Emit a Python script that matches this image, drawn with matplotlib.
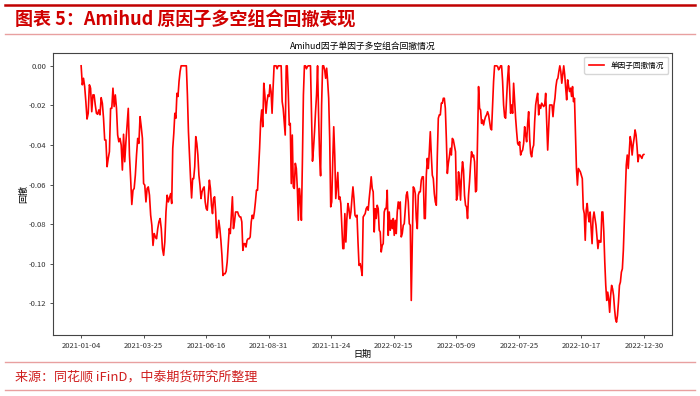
import numpy as np
import matplotlib
matplotlib.use("Agg")
import matplotlib.pyplot as plt
from matplotlib.lines import Line2D

plt.rcParams['font.family'] = ['Noto Sans CJK SC', 'DejaVu Sans']
plt.rcParams['axes.unicode_minus'] = False

# ---- data (drawdown, in six consecutive stretches) ----
dd_a = [0, -0.0096, -0.0063, -0.0105, -0.0181, -0.0269, -0.0240, -0.0096, -0.0113, -0.0232,
        -0.0147, -0.0147, -0.0198, -0.0240, -0.0245, -0.0223, -0.0248, -0.0161, -0.0189, -0.0265,
        -0.0375, -0.0375, -0.0510, -0.0468, -0.0434, -0.0215, -0.0215, -0.0113, -0.0206, -0.0147,
        -0.0215, -0.0350, -0.0384, -0.0367, -0.0401, -0.0527, -0.0346, -0.0485, -0.0384, -0.0299,
        -0.0215, -0.0451, -0.0570, -0.0701, -0.0629, -0.0620, -0.0553, -0.0451, -0.0367, -0.0392,
        -0.0257, -0.0308, -0.0367, -0.0595, -0.0603, -0.0688, -0.0620, -0.0612, -0.0654, -0.0755,
        -0.0806, -0.0908, -0.0848, -0.0865, -0.0874, -0.0823, -0.0789, -0.0772, -0.0823, -0.0924,
        -0.0958, -0.0891, -0.0739, -0.0654, -0.0688]
dd_b = [-0.0646, -0.0696, -0.0417, -0.0341, -0.0240, -0.0265, -0.0139, -0.0155, -0.0079, -0.0029,
        0, 0, 0, 0, 0, 0, -0.0147, -0.0333, -0.0451, -0.0570,
        -0.0668, -0.0570, -0.0570, -0.0510, -0.0358, -0.0392, -0.0451, -0.0553, -0.0603, -0.0671,
        -0.0637, -0.0620, -0.0612, -0.0688, -0.0722, -0.0730, -0.0654, -0.0578, -0.0620, -0.0705,
        -0.0747, -0.0671, -0.0662, -0.0739, -0.0870, -0.0840, -0.0781, -0.0823, -0.0882, -0.0958,
        -0.1060, -0.1051, -0.1051, -0.1039, -0.0992, -0.0908, -0.0823, -0.0848, -0.0755, -0.0662,
        -0.0823, -0.0789, -0.0739, -0.0739, -0.0739, -0.0755, -0.0764, -0.0764, -0.0789, -0.0933,
        -0.0899, -0.0899, -0.0916, -0.0882, -0.0874, -0.0874, -0.0865, -0.0789, -0.0755, -0.0772,
        -0.0739, -0.0688, -0.0629, -0.0629, -0.0519, -0.0417, -0.0282, -0.0223, -0.0308, -0.0088,
        -0.0147]
dd_c = [-0.0240, -0.0181, -0.0147, -0.0155, -0.0096, -0.0130, -0.0240, -0.0113, 0, 0,
        0, -0.0015, 0, 0, 0, 0, -0.0181, -0.0215, -0.0282, -0.0350,
        0, 0, -0.0130, -0.0299, -0.0291, -0.0595, -0.0350, -0.0612, -0.0620, -0.0493,
        -0.0519, -0.0620, -0.0781, -0.0620, -0.0671, -0.0781, -0.0485, -0.0147, 0, 0,
        -0.0015, -0.0003, 0, 0, 0, -0.0248, -0.0482, -0.0417, -0.0333, -0.0232,
        -0.0147, 0, -0.0248, -0.0451, -0.0556, -0.0198, 0, 0, -0.0020, -0.0063,
        -0.0012, -0.0079, -0.0164, -0.0367, -0.0713, -0.0688, -0.0485, -0.0308, -0.0451, -0.0671,
        -0.0603, -0.0539, -0.0674, -0.0662, -0.0696, -0.0806, -0.0924, -0.0924, -0.0747, -0.0891,
        -0.0772, -0.0696, -0.0722, -0.0772, -0.0739, -0.0671, -0.0612, -0.0671, -0.0755, -0.0764,
        -0.0755, -0.0891, -0.1009]
dd_d = [-0.1000, -0.1026, -0.1060, -0.0764, -0.0755, -0.0747, -0.0722, -0.0713, -0.0730, -0.0671,
        -0.0620, -0.0561, -0.0620, -0.0637, -0.0840, -0.0722, -0.0772, -0.0705, -0.0722, -0.0831,
        -0.0840, -0.0941, -0.0908, -0.0899, -0.0739, -0.0722, -0.0722, -0.0629, -0.0857, -0.0739,
        -0.0831, -0.0781, -0.0823, -0.0772, -0.0857, -0.0781, -0.0848, -0.0739, -0.0688, -0.0722,
        -0.0688, -0.0865, -0.0848, -0.0806, -0.0798, -0.0722, -0.0654, -0.0637, -0.0688, -0.0798,
        -0.0806, -0.1186, -0.0891, -0.0612, -0.0620, -0.0646, -0.0772, -0.0823, -0.0654, -0.0637,
        -0.0637, -0.0578, -0.0561, -0.0561, -0.0772, -0.0772, -0.0553, -0.0468, -0.0519, -0.0434,
        -0.0333, -0.0451, -0.0553, -0.0570, -0.0646, -0.0688, -0.0705, -0.0451, -0.0265, -0.0248,
        -0.0248, -0.0189, -0.0189, -0.0164, -0.0164, -0.0215, -0.0367, -0.0544, -0.0493, -0.0460,
        -0.0417, -0.0451, -0.0367, -0.0375, -0.0401]
dd_e = [-0.0434, -0.0679, -0.0654, -0.0536, -0.0578, -0.0679, -0.0553, -0.0485, -0.0527, -0.0654,
        -0.0705, -0.0713, -0.0772, -0.0654, -0.0586, -0.0502, -0.0434, -0.0460, -0.0451, -0.0485,
        -0.0637, -0.0629, -0.0375, -0.0105, -0.0215, -0.0223, -0.0291, -0.0274, -0.0299, -0.0274,
        -0.0257, -0.0248, -0.0232, -0.0248, -0.0282, -0.0316, -0.0324, -0.0198, -0.0079, 0,
        0, 0, -0.0003, -0.0020, -0.0012, 0, 0, -0.0079, -0.0198, -0.0257,
        -0.0265, -0.0164, -0.0063, 0, -0.0113, -0.0240, -0.0198, -0.0240, -0.0088, -0.0181,
        -0.0265, -0.0333, -0.0392, -0.0401, -0.0384, -0.0451, -0.0434, -0.0426, -0.0392, -0.0308,
        -0.0350, -0.0384, -0.0291, -0.0232, -0.0367, -0.0443, -0.0460, -0.0417, -0.0401, -0.0282,
        -0.0198, -0.0164, -0.0139, -0.0248, -0.0198, -0.0215, -0.0189, -0.0198, -0.0206, -0.0198,
        -0.0139, -0.0282, -0.0426, -0.0316, -0.0198]
dd_f = [-0.0198, -0.0257, -0.0198, -0.0164, -0.0105, -0.0071, -0.0063, -0.0029, 0, -0.0029,
        -0.0088, -0.0046, 0, -0.0046, -0.0113, -0.0172, -0.0071, -0.0105, -0.0130, -0.0113,
        -0.0155, -0.0105, -0.0181, -0.0164, -0.0333, -0.0519, -0.0603, -0.0519, -0.0527, -0.0536,
        -0.0553, -0.0570, -0.0722, -0.0747, -0.0882, -0.0730, -0.0696, -0.0755, -0.0789, -0.0739,
        -0.0823, -0.0899, -0.0772, -0.0739, -0.0772, -0.0806, -0.0865, -0.0924, -0.0882, -0.0891,
        -0.0891, -0.0739, -0.0739, -0.0840, -0.0992, -0.1110, -0.1186, -0.1144, -0.1178, -0.1246,
        -0.1161, -0.1110, -0.1127, -0.1161, -0.1229, -0.1279, -0.1296, -0.1262, -0.1195, -0.1110,
        -0.1093, -0.1043, -0.1026, -0.0933, -0.0789, -0.0637, -0.0502, -0.0451, -0.0519, -0.0434,
        -0.0358, -0.0384, -0.0451, -0.0401, -0.0367, -0.0324, -0.0350, -0.0409, -0.0485, -0.0451,
        -0.0451, -0.0460, -0.0468, -0.0451, -0.0448]

# first / last trading-day index covered by each stretch above
seg_first_day = [0, 77, 159, 240, 322, 405]
seg_last_day = [75, 158, 239, 321, 403, 484]

tick_labels = ['2021-01-04', '2021-03-25', '2021-06-16', '2021-08-31', '2021-11-24',
               '2022-02-15', '2022-05-09', '2022-07-25', '2022-10-17', '2022-12-30']
n_days = 485

segments = [dd_a, dd_b, dd_c, dd_d, dd_e, dd_f]
drawdown = np.concatenate([np.array(s) for s in segments])
x = np.concatenate([np.linspace(a, b, len(s))
                    for a, b, s in zip(seg_first_day, seg_last_day, segments)])
tick_pos = np.linspace(0, n_days - 1, len(tick_labels))

# ---- figure ----
fig = plt.figure(figsize=(7.0, 3.96), dpi=100)
W, H = 700, 396

red = '#D00000'
fig.add_artist(Line2D([5 / W, 695 / W], [1 - 5 / H, 1 - 5 / H], color='#C00000', lw=1.8))
fig.add_artist(Line2D([5 / W, 695 / W], [1 - 34 / H, 1 - 34 / H], color='#E8A0A0', lw=1.0))
fig.text(15 / W, 1 - 20 / H, '图表 5：Amihud 原因子多空组合回撤表现', color=red,
         fontsize=13, fontweight='bold', style='italic', ha='left', va='center')

fig.add_artist(Line2D([5 / W, 695 / W], [1 - 362 / H, 1 - 362 / H], color='#E8A0A0', lw=1.0))
fig.add_artist(Line2D([5 / W, 695 / W], [1 - 390 / H, 1 - 390 / H], color='#E8A0A0', lw=1.0))
fig.text(15 / W, 1 - 377 / H, '来源：同花顺 iFinD，中泰期货研究所整理', color='#D02020',
         fontsize=9.4, ha='left', va='center')

ax = fig.add_axes([53 / W, 1 - 335 / H, (672 - 53) / W, (335 - 53) / H])
ax.plot(x, drawdown, color='red', lw=1.2, label='单因子回撤情况')
ax.set_xticks(tick_pos)
ax.set_xticklabels(tick_labels)
ax.set_yticks([0.0, -0.02, -0.04, -0.06, -0.08, -0.10, -0.12])
ax.yaxis.set_major_formatter(matplotlib.ticker.FormatStrFormatter('%.2f'))
ax.tick_params(labelsize=5.5, length=2.5, width=0.6, pad=2.5, colors='#333333')
for s in ax.spines.values():
    s.set_linewidth(0.8)
    s.set_color('#444444')
ax.set_title('Amihud因子单因子多空组合回撤情况', fontsize=6.3, pad=3)
ax.set_xlabel('日期', fontsize=6.5, labelpad=0)
ax.set_ylabel('回撤', fontsize=6.5, labelpad=0)
ax.legend(loc='upper right', fontsize=5.5, frameon=True, handlelength=2.0, borderpad=0.6)

fig.savefig('out.png', dpi=100)
